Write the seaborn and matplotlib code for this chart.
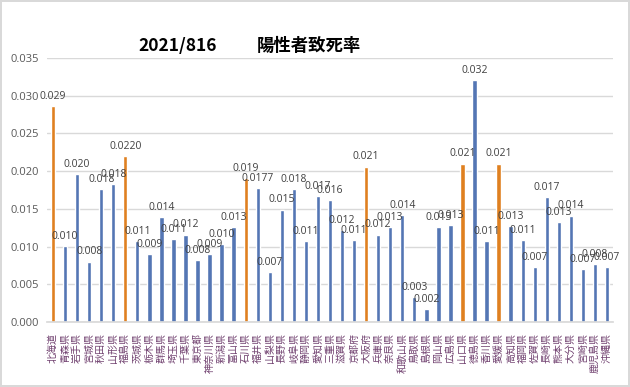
import matplotlib
matplotlib.use('Agg')
import matplotlib.pyplot as plt
from matplotlib.ticker import MultipleLocator, FormatStrFormatter
import seaborn as sns
import pandas as pd

prefectures = [
    '北海道', '青森県', '岩手県', '宮城県', '秋田県', '山形県', '福島県',
    '茨城県', '栃木県', '群馬県', '埼玉県', '千葉県', '東京都', '神奈川県',
    '新潟県', '富山県', '石川県', '福井県', '山梨県', '長野県', '岐阜県',
    '静岡県', '愛知県', '三重県', '滋賀県', '京都府', '大阪府', '兵庫県',
    '奈良県', '和歌山県', '鳥取県', '島根県', '岡山県', '広島県', '山口県',
    '徳島県', '香川県', '愛媛県', '高知県', '福岡県', '佐賀県', '長崎県',
    '熊本県', '大分県', '宮崎県', '鹿児島県', '沖縄県',
]
death_rate = [
    0.0286, 0.0101, 0.0196, 0.0080, 0.0176, 0.0183, 0.0220,
    0.0107, 0.0090, 0.0139, 0.0110, 0.0116, 0.0082, 0.0090,
    0.0103, 0.0126, 0.0191, 0.0177, 0.0066, 0.0149, 0.0176,
    0.0107, 0.0167, 0.0162, 0.0122, 0.0109, 0.0206, 0.0116,
    0.0126, 0.0142, 0.0033, 0.0017, 0.0126, 0.0129, 0.0210,
    0.0321, 0.0107, 0.0210, 0.0127, 0.0109, 0.0073, 0.0166,
    0.0133, 0.0141, 0.0070, 0.0077, 0.0073,
]
highlighted = ['北海道', '福島県', '石川県', '大阪府', '山口県', '愛媛県']
four_digit_labels = ['福島県', '福井県']

df = pd.DataFrame({'pref': prefectures, 'rate': death_rate})
df['group'] = ['hi' if p in highlighted else 'lo' for p in df['pref']]

sns.set_theme(style='white')
plt.rcParams['font.family'] = ['Open Sans', 'Noto Sans CJK JP', 'DejaVu Sans']
cjk = ['Noto Sans CJK JP', 'DejaVu Sans']

fig = plt.figure(figsize=(6.3, 3.87), dpi=100, edgecolor='#d9d9d9', linewidth=1.5)
ax = fig.add_axes([47 / 630, 65 / 387, 566 / 630, 264 / 387])

sns.barplot(data=df, x='pref', y='rate', hue='group',
            palette={'hi': '#FF8000', 'lo': '#4472C4'},
            dodge=False, width=0.36, legend=False, ax=ax)

# data labels above each bar
for i, row in df.iterrows():
    fmt = '{:.4f}' if row['pref'] in four_digit_labels else '{:.3f}'
    ax.annotate(fmt.format(row['rate']), (i, row['rate']),
                xytext=(0, 3), textcoords='offset points',
                ha='center', va='bottom', fontsize=7.5, color='#404040')

ax.set_ylim(0, 0.035)
ax.yaxis.set_major_locator(MultipleLocator(0.005))
ax.yaxis.set_major_formatter(FormatStrFormatter('%.3f'))
ax.grid(axis='y', color='#d9d9d9', linewidth=1)
ax.set_axisbelow(True)
for s in ['top', 'right', 'left']:
    ax.spines[s].set_visible(False)
ax.spines['bottom'].set_color('#d9d9d9')
ax.set_xlabel('')
ax.set_ylabel('')
ax.tick_params(axis='y', length=0, labelsize=8, labelcolor='#595959', pad=6)
ax.tick_params(axis='x', length=0, pad=8)
ax.set_xticks(range(len(prefectures)))
ax.set_xticklabels(prefectures, rotation=90, fontsize=7.2, color='#70406f',
                   family=cjk)

title_y = 1 - 46 / 387
fig.text(138 / 630, title_y, '2021/816', fontsize=12.5, family=cjk,
         fontweight='bold', ha='left', va='center', color='black')
fig.text(257 / 630, title_y, '陽性者致死率', fontsize=12.5, family=cjk,
         fontweight='bold', ha='left', va='center', color='black')

fig.savefig('out.png', dpi=100, edgecolor=fig.get_edgecolor())
